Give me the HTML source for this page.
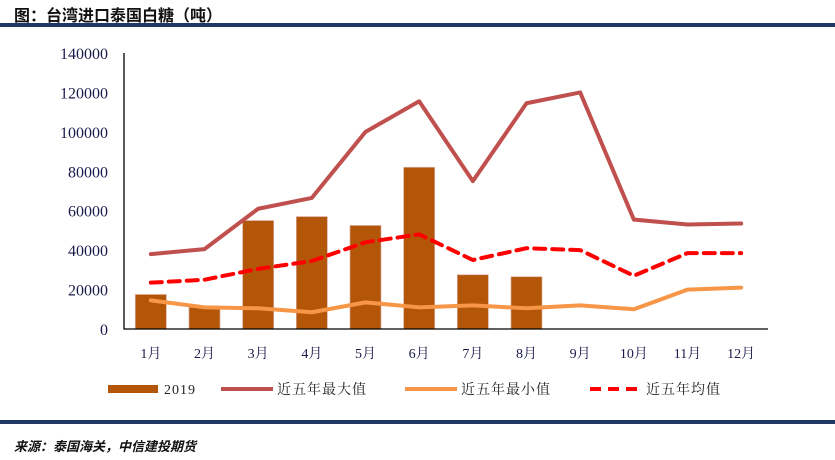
<!DOCTYPE html>
<html><head><meta charset="utf-8"><style>
body{margin:0;width:835px;height:460px;background:#fff;overflow:hidden;font-family:"Liberation Serif","Noto Serif CJK SC",serif;}
#title{position:absolute;left:14px;top:2px;font:bold 16px "Liberation Sans","Noto Sans CJK SC",sans-serif;color:#111;}
#topline{position:absolute;left:0;top:23px;width:835px;height:4px;background:#1f3864;}
#botline{position:absolute;left:0;top:420px;width:835px;height:4px;background:#1f3864;}
#source{position:absolute;left:14px;top:436px;font:italic bold 13px "Liberation Sans","Noto Sans CJK SC",sans-serif;color:#111;}
svg{position:absolute;left:0;top:0;}
</style></head><body>
<div id="title">图：台湾进口泰国白糖（吨）</div>
<div id="topline"></div>
<svg id="chart" width="835" height="460"></svg>
<div id="botline"></div>
<div id="source">来源：泰国海关，中信建投期货</div>
<script>
const categories=["1月","2月","3月","4月","5月","6月","7月","8月","9月","10月","11月","12月"];
const bars2019=[17500,11000,55000,57000,52500,82000,27500,26500,null,null,null,null];
const maxVals=[38000,40500,61000,66500,100000,115500,75000,114500,120000,55500,53000,53500];
const minVals=[14500,11000,10500,8500,13500,11000,12000,10500,12000,10000,20000,21000];
const avgVals=[23500,25000,30500,34500,44000,48000,35000,41000,40000,27000,38500,38500];
const yTicks=[0,20000,40000,60000,80000,100000,120000,140000];
const NS="http://www.w3.org/2000/svg";
const svg=document.getElementById('chart');
const X0=124,X1=768,Y0=329,Y1=53,YMAX=140000;
const band=(X1-X0)/categories.length;
const x=i=>X0+band*(i+0.5);
const y=v=>Y0-(v/YMAX)*(Y0-Y1);
function mk(t,a){const e=document.createElementNS(NS,t);for(const k in a)e.setAttribute(k,a[k]);svg.appendChild(e);return e;}
yTicks.forEach(v=>{const t=mk('text',{x:X0-16,y:y(v)+6,'text-anchor':'end','font-size':'16',fill:'#1a1a4a','font-family':'Liberation Serif, serif'});t.textContent=v;

});
categories.forEach((c,i)=>{const t=mk('text',{x:x(i),y:358,'text-anchor':'middle','font-size':'14',fill:'#1a1a4a','font-family':'Liberation Serif, Noto Serif CJK SC, serif'});t.textContent=c;

});
bars2019.forEach((v,i)=>{if(v==null)return;const r=mk('rect',{x:x(i)-15.5,y:y(v),width:31,height:Y0-y(v),fill:'#b45608',stroke:'#d8a89a','stroke-width':'0.7'});

});
function line(vals,color,w,dash,name){const p=mk('polyline',{points:vals.map((v,i)=>x(i)+','+y(v)).join(' '),fill:'none',stroke:color,'stroke-width':w,'stroke-linejoin':'round','stroke-linecap':'round'});if(dash)p.setAttribute('stroke-dasharray',dash);

}
line(maxVals,'#c0504d',4,null,'line-five-year-max');
line(minVals,'#f79646',4,null,'line-five-year-min');
line(avgVals,'#ff0000',4,'11 7','line-five-year-avg');
const ax=mk('path',{d:`M${X0},${Y1} V${Y0} H${X1}`,fill:'none',stroke:'#000','stroke-width':'1.3'});


const lg=[['2019','rect','#b45608',108,null],['近五年最大值','line','#c0504d',221,null],['近五年最小值','line','#f79646',405,null],['近五年均值','line','#ff0000',590,'11 7']];
lg.forEach(([lab,kind,col,lx,dash])=>{
 if(kind==='rect'){const r=mk('rect',{x:lx,y:385,width:50,height:8,fill:col});}
 else{const l=mk('line',{x1:lx,y1:389,x2:lx+52,y2:389,stroke:col,'stroke-width':4});if(dash)l.setAttribute('stroke-dasharray',dash);}
 const t=mk('text',{x:lx+56,y:394,'font-size':'14',fill:'#222','font-family':'Liberation Serif, Noto Serif CJK SC, serif','letter-spacing':'1'});t.textContent=lab;
 
 
});
</script>
</body></html>
